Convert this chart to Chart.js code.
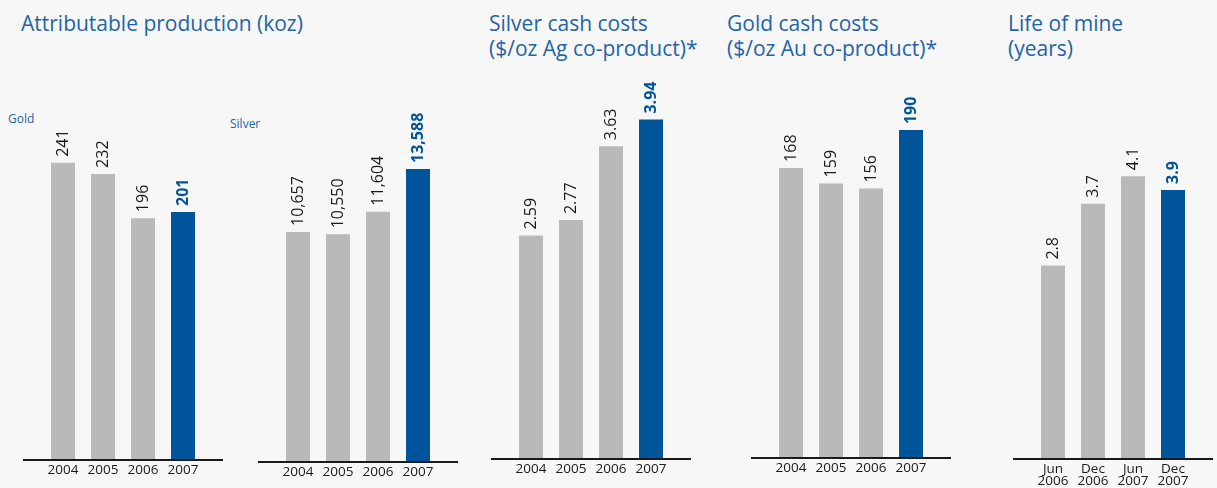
<!DOCTYPE html>
<html>
<head>
<meta charset="utf-8">
<script src="https://cdn.jsdelivr.net/npm/chart.js@4.4.0/dist/chart.umd.min.js"></script>
<style>
  html, body { margin:0; padding:0; background:#f7f7f7; }
  body { width:1217px; height:488px; position:relative; overflow:hidden; font-family:"Open Sans", sans-serif; }
  .title { position:absolute; color:#1e64a8; font-size:21px; line-height:25px; font-weight:400; white-space:nowrap; letter-spacing:0px; }
  .sub { position:absolute; color:#1e64a8; font-size:12px; line-height:14px; white-space:nowrap; }
  canvas.c { position:absolute; top:0; }
</style>
</head>
<body>
<div class="title" style="left:21px;top:11px;">Attributable production (koz)</div>
<div class="title" style="left:489px;top:11px;">Silver cash costs<br>($/oz Ag co-product)*</div>
<div class="title" style="left:727px;top:11px;">Gold cash costs<br>($/oz Au co-product)*</div>
<div class="title" style="left:1008px;top:11px;">Life of mine<br>(years)</div>
<div class="sub" style="left:8px;top:112px;">Gold</div>
<div class="sub" style="left:230px;top:117px;">Silver</div>

<div id="wrap"></div>

<script>
// ---- data ----
const years = ["2004", "2005", "2006", "2007"];
const goldProduction = [241, 232, 196, 201];
const silverProduction = [10657, 10550, 11604, 13588];
const silverCashCosts = [2.59, 2.77, 3.63, 3.94];
const goldCashCosts = [168, 159, 156, 190];
const mineLifeLabels = [["Jun", "2006"], ["Dec", "2006"], ["Jun", "2007"], ["Dec", "2007"]];
const mineLife = [2.8, 3.7, 4.1, 3.9];

const goldLabels = ["241", "232", "196", "201"];
const silverLabels = ["10,657", "10,550", "11,604", "13,588"];
const silverCostLabels = ["2.59", "2.77", "3.63", "3.94"];
const goldCostLabels = ["168", "159", "156", "190"];
const mineLifeValueLabels = ["2.8", "3.7", "4.1", "3.9"];

// ---- layout / style ----
const GREY = "#b9b9ba";
const BLUE = "#00549a";
const TOP = 60;

const panels = [
  { labels: years, data: goldProduction, text: goldLabels, areaLeft: 43, baseline: 459, max: 324.7 },
  { labels: years, data: silverProduction, text: silverLabels, areaLeft: 278, baseline: 461, max: 18660 },
  { labels: years, data: silverCashCosts, text: silverCostLabels, areaLeft: 511, baseline: 458, max: 4.633 },
  { labels: years, data: goldCashCosts, text: goldCostLabels, areaLeft: 771, baseline: 457, max: 230.7 },
  { labels: mineLifeLabels, data: mineLife, text: mineLifeValueLabels, areaLeft: 1033, baseline: 458, max: 5.79 }
];

const PAD = 30, AREA_W = 160, EXT = 20;

const valuePlugin = {
  id: "valueLabels",
  afterDatasetsDraw(chart, args, opts) {
    const ctx = chart.ctx;
    const meta = chart.getDatasetMeta(0);
    const texts = opts.texts || [];
    meta.data.forEach((bar, i) => {
      const last = i === meta.data.length - 1;
      ctx.save();
      ctx.translate(bar.x + 0.5, bar.y - 6);
      ctx.rotate(-Math.PI / 2);
      ctx.font = (last ? "700 " : "400 ") + "16px 'Open Sans', sans-serif";
      ctx.fillStyle = last ? BLUE : "#1a1a1a";
      ctx.textAlign = "left";
      ctx.textBaseline = "middle";
      ctx.fillText(texts[i], 0, 0);
      ctx.restore();
    });
  },
  afterDraw(chart) {
    const ctx = chart.ctx;
    const a = chart.chartArea;
    ctx.save();
    ctx.strokeStyle = "#1a1a1a";
    ctx.lineWidth = 2;
    ctx.beginPath();
    ctx.moveTo(a.left - EXT, a.bottom + 1);
    ctx.lineTo(a.right + EXT, a.bottom + 1);
    ctx.stroke();
    ctx.restore();
  }
};

const wrap = document.getElementById("wrap");
panels.forEach((p) => {
  const cv = document.createElement("canvas");
  cv.className = "c";
  const w = AREA_W + 2 * PAD;
  cv.width = w; cv.height = 488;
  cv.style.left = (p.areaLeft - PAD) + "px";
  cv.style.width = w + "px"; cv.style.height = "488px";
  wrap.appendChild(cv);
  const axisH = 488 - p.baseline;
  new Chart(cv, {
    type: "bar",
    data: {
      labels: p.labels,
      datasets: [{
        data: p.data,
        backgroundColor: p.data.map((v, i) => i === p.data.length - 1 ? BLUE : GREY),
        borderWidth: 0,
        barPercentage: 0.6,
        categoryPercentage: 1.0
      }]
    },
    options: {
      responsive: false,
      animation: false,
      devicePixelRatio: 1,
      layout: { padding: { left: PAD, right: PAD, top: TOP, bottom: 0 } },
      plugins: {
        legend: { display: false },
        tooltip: { enabled: false },
        valueLabels: { texts: p.text }
      },
      scales: {
        x: {
          grid: { display: false, drawTicks: false },
          border: { display: false },
          ticks: {
            color: "#1a1a1a",
            font: { family: "'Open Sans', sans-serif", size: 13.5, lineHeight: 0.9 },
            padding: 5,
            maxRotation: 0,
            autoSkip: false
          },
          afterFit(scale) { scale.height = axisH; }
        },
        y: {
          display: false,
          min: 0,
          max: p.max
        }
      }
    },
    plugins: [valuePlugin]
  });
});
</script>
</body>
</html>
